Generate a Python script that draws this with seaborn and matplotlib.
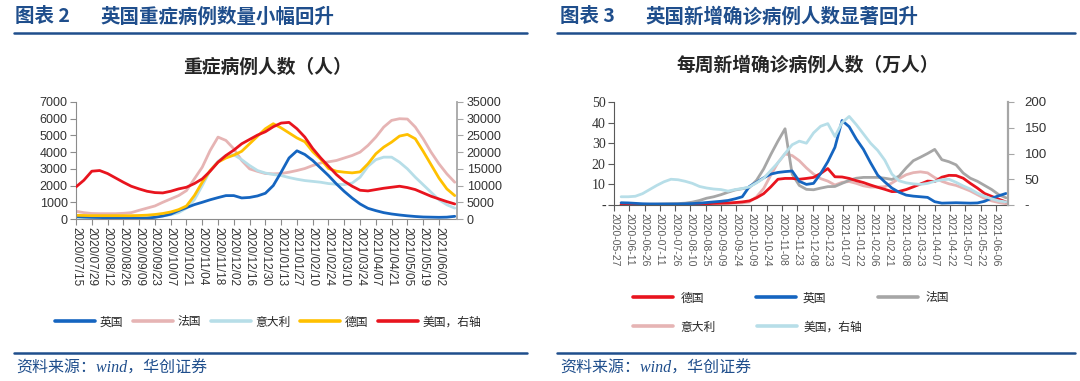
import numpy as np
import pandas as pd
import matplotlib.pyplot as plt
from matplotlib.lines import Line2D
from matplotlib.ticker import FuncFormatter
import seaborn as sns

# ---- 图表2：重症病例人数（人），按周读取 ----
icu_dates = pd.date_range("2020-07-15", periods=49, freq="7D")
icu_uk = [150, 120, 100, 90, 70, 60, 50, 40, 40, 50,
          100, 180, 290, 500, 680, 860, 1000, 1150, 1280, 1400,
          1400, 1260, 1290, 1380, 1540, 2000, 2800, 3650, 4080, 3860,
          3500, 3050, 2600, 2100, 1650, 1250, 900, 640, 500, 380,
          300, 240, 190, 150, 120, 110, 100, 110, 160]
icu_fr = [460, 380, 330, 320, 320, 320, 340, 380, 520, 650,
          780, 1000, 1200, 1400, 1700, 2400, 3100, 4100, 4900, 4700,
          4200, 3500, 3000, 2850, 2720, 2700, 2720, 2800, 2900, 3020,
          3200, 3350, 3420, 3500, 3650, 3800, 4000, 4400, 4900, 5500,
          5900, 6000, 5980, 5500, 4800, 4000, 3300, 2700, 2200]
icu_it = [80, 60, 50, 40, 30, 30, 30, 40, 60, 80,
          120, 180, 260, 380, 650, 1150, 2000, 2900, 3450, 3800,
          3850, 3550, 3200, 2900, 2750, 2660, 2600, 2480, 2380, 2300,
          2250, 2200, 2120, 2080, 2060, 2150, 2500, 3150, 3550, 3700,
          3700, 3400, 3000, 2500, 2050, 1600, 1150, 850, 650]
icu_de = [220, 210, 200, 200, 200, 200, 200, 200, 210, 230,
          270, 330, 420, 560, 780, 1400, 2200, 2900, 3400, 3650,
          3820, 4050, 4500, 4950, 5400, 5700, 5450, 5150, 4850, 4620,
          4030, 3580, 3020, 2860, 2800, 2760, 2820, 3300, 3900, 4300,
          4600, 4960, 5060, 4800, 4050, 3250, 2450, 1800, 1400]
icu_us = [9600, 11600, 14300, 14500, 13600, 12300, 11000, 9800, 9000, 8300,
          7900, 7800, 8300, 9000, 9500, 10600, 12000, 14300, 17000, 19000,
          20600, 22500, 23800, 25100, 26100, 27600, 28700, 28900, 27000, 24500,
          21100, 18300, 15800, 13300, 11300, 9800, 8600, 8400, 8800, 9200,
          9500, 9800, 9400, 8800, 7800, 6800, 6000, 5200, 4500]  # 右轴

# ---- 图表3：每周新增确诊病例人数（万人） ----
case_dates = pd.date_range("2020-06-03", periods=55, freq="7D")
case_de = [0.3, 0.3, 0.3, 0.3, 0.3, 0.3, 0.3, 0.3, 0.3, 0.3,
           0.3, 0.4, 0.6, 0.8, 0.9, 1.0, 1.2, 1.5, 2.0, 3.5,
           5.5, 8.8, 12.5, 12.9, 12.9, 12.5, 12.9, 13.4, 15.3, 17.7,
           13.7, 13.6, 12.9, 11.8, 10.9, 9.7, 8.6, 7.6, 6.5, 6.6,
           7.5, 8.8, 10.2, 11.6, 11.4, 13.5, 14.4, 14.3, 13.0, 10.5,
           8.2, 5.6, 4.2, 2.8, 1.5]
case_uk = [1.1, 1.0, 0.8, 0.6, 0.5, 0.5, 0.5, 0.5, 0.5, 0.6,
           0.7, 0.9, 1.2, 1.5, 1.8, 2.2, 3.0, 4.0, 9.0, 11.0,
           13.2, 15.0, 15.8, 16.2, 16.5, 11.5, 10.0, 10.5, 15.3, 21.0,
           28.0, 41.0, 38.0, 32.0, 27.0, 20.5, 14.5, 11.2, 8.2, 6.2,
           4.8, 4.3, 4.0, 3.7, 1.6, 0.9, 1.0, 1.1, 1.0, 0.9,
           1.0, 1.8, 3.3, 4.5, 5.6]
case_fr = [0.3, 0.3, 0.3, 0.3, 0.4, 0.4, 0.5, 0.6, 0.7, 0.9,
           1.4, 2.2, 3.3, 4.0, 5.0, 6.2, 7.3, 7.9, 8.5, 12.0,
           17.5, 24.5, 31.0, 37.0, 15.0, 9.5, 7.6, 7.4, 8.2, 8.9,
           9.0, 10.5, 12.0, 13.0, 13.4, 13.4, 13.4, 13.0, 12.4, 14.0,
           18.0, 21.5, 23.2, 25.0, 27.0, 22.0, 21.0, 19.5, 15.5, 13.0,
           11.5, 9.5, 7.5, 5.0, 3.5]
case_it = [0.2, 0.2, 0.2, 0.2, 0.2, 0.2, 0.3, 0.3, 0.3, 0.3,
           0.3, 0.3, 0.4, 0.5, 0.6, 0.7, 0.9, 1.0, 1.5, 4.0,
           8.0, 14.5, 20.5, 24.8, 24.0, 21.5, 18.0, 15.0, 12.8, 11.6,
           9.7, 11.0, 11.4, 10.5, 9.3, 8.7, 8.7, 8.9, 10.7, 12.8,
           14.7, 15.7, 16.1, 15.6, 13.3, 11.5, 10.3, 9.5, 8.2, 6.8,
           5.0, 3.2, 2.0, 1.2, 0.6]
case_us = [16, 16, 17, 22, 30, 38, 45, 50, 49, 46,
           42, 36, 33, 31, 30, 27, 30, 32, 35, 43,
           52, 67, 82, 100, 117, 124, 120, 140, 153, 158,
           133, 160, 172, 156, 138, 120, 106, 87, 60, 47,
           43, 41, 40, 42, 46, 49, 50, 44, 37, 31,
           23, 17, 12, 8, 6]  # 右轴

icu_ticks = pd.date_range("2020-07-15", "2021-06-02", freq="14D")
case_ticks = pd.date_range("2020-05-27", "2021-06-06", freq="15D")

BLUE = "#1565C0"
PINK = "#E6B4B4"
LBLUE = "#B7DEE8"
YELLOW = "#FFC000"
RED = "#E8141E"
GRAY = "#A6A6A6"
NAVY = "#1F4E8C"

sns.set_style("ticks")
plt.rcParams['font.family'] = ['Noto Sans CJK SC', 'DejaVu Sans']
plt.rcParams['axes.unicode_minus'] = False

W, H = 1080, 381
fig = plt.figure(figsize=(W / 100, H / 100), dpi=100)


def fx(px):
    return px / W


def fy(py):
    return 1 - py / H


# ---------------- left chart ----------------
ax1 = fig.add_axes([fx(76), fy(219), fx(457 - 76), (219 - 102) / H])
ax1r = ax1.twinx()
lw = 2.0
sns.lineplot(x=icu_dates, y=icu_fr, ax=ax1, color=PINK, lw=lw, label="法国", legend=False)
sns.lineplot(x=icu_dates, y=icu_it, ax=ax1, color=LBLUE, lw=lw, label="意大利", legend=False)
sns.lineplot(x=icu_dates, y=icu_uk, ax=ax1, color=BLUE, lw=lw, label="英国", legend=False)
sns.lineplot(x=icu_dates, y=icu_de, ax=ax1, color=YELLOW, lw=lw, label="德国", legend=False)
sns.lineplot(x=icu_dates, y=icu_us, ax=ax1r, color=RED, lw=lw, label="美国，右轴", legend=False)

ax1.set_xlim(pd.Timestamp("2020-07-15"), pd.Timestamp("2021-06-18"))
ax1.set_ylim(0, 7000)
ax1r.set_ylim(0, 35000)
ax1.set_yticks(range(0, 7001, 1000), labels=[str(v) for v in range(0, 7001, 1000)],
               fontsize=9, family="Liberation Sans", color="#333333")
ax1r.set_yticks(range(0, 35001, 5000), labels=[str(v) for v in range(0, 35001, 5000)],
                fontsize=9, family="Liberation Sans", color="#333333")
ax1.set_xticks(icu_ticks, labels=[d.strftime("%Y/%m/%d") for d in icu_ticks],
               rotation=270, fontsize=8.5, family="Liberation Sans", color="#333333")
for a in (ax1, ax1r):
    a.set_xlabel("")
    a.set_ylabel("")
    a.spines["top"].set_visible(False)
ax1.spines["right"].set_visible(False)
ax1r.spines["left"].set_visible(False)
ax1r.spines["bottom"].set_visible(False)
for s in ("left", "bottom"):
    ax1.spines[s].set_color("#8C8C8C")
ax1r.spines["right"].set_color("#A6A6A6")
ax1r.spines["right"].set_linewidth(1.3)
ax1.tick_params(axis="both", direction="out", length=4, width=0.8, color="#8C8C8C", pad=2)
ax1r.tick_params(axis="y", direction="out", length=4, width=0.8, color="#A6A6A6", pad=3)

# ---------------- right chart ----------------
ax2 = fig.add_axes([fx(614), fy(205), fx(1008 - 614), (205 - 102) / H])
ax2r = ax2.twinx()
sns.lineplot(x=case_dates, y=case_it, ax=ax2, color=PINK, lw=lw, label="意大利", legend=False)
sns.lineplot(x=case_dates, y=case_fr, ax=ax2, color=GRAY, lw=lw, label="法国", legend=False)
sns.lineplot(x=case_dates, y=case_de, ax=ax2, color=RED, lw=lw, label="德国", legend=False)
sns.lineplot(x=case_dates, y=case_uk, ax=ax2, color=BLUE, lw=lw, label="英国", legend=False)
sns.lineplot(x=case_dates, y=case_us, ax=ax2r, color=LBLUE, lw=lw, label="美国，右轴", legend=False)

ax2.set_xlim(pd.Timestamp("2020-05-27"), pd.Timestamp("2021-06-18"))
ax2.set_ylim(0, 50)
ax2r.set_ylim(0, 200)
dash = FuncFormatter(lambda v, p: "-" if v == 0 else f"{v:.0f}")
ax2.set_yticks(range(0, 51, 10))
ax2.yaxis.set_major_formatter(dash)
ax2r.set_yticks(range(0, 201, 50))
ax2r.yaxis.set_major_formatter(dash)
for lab in ax2.get_yticklabels():
    lab.set_family("Liberation Serif")
    lab.set_fontsize(10)
    lab.set_color("#333333")
for lab in ax2r.get_yticklabels():
    lab.set_family("Liberation Sans")
    lab.set_fontsize(9.5)
    lab.set_color("#333333")
ax2.set_xticks(case_ticks, labels=[d.strftime("%Y-%m-%d") for d in case_ticks],
               rotation=270, fontsize=7.5, family="Liberation Sans", color="#595959")
for a in (ax2, ax2r):
    a.set_xlabel("")
    a.set_ylabel("")
    a.spines["top"].set_visible(False)
ax2.spines["right"].set_visible(False)
ax2r.spines["left"].set_visible(False)
ax2r.spines["bottom"].set_visible(False)
for s in ("left", "bottom"):
    ax2.spines[s].set_color("#595959")
ax2r.spines["right"].set_color("#A6A6A6")
ax2r.spines["right"].set_linewidth(1.6)
ax2.tick_params(axis="both", direction="out", length=4, width=0.8, color="#595959", pad=2)
ax2r.tick_params(axis="y", direction="out", length=4, width=0.8, color="#A6A6A6", pad=8)

# ---------------- legends ----------------
def handles_of(*axes):
    out = {}
    for a in axes:
        for ln in a.get_lines():
            out[ln.get_label()] = ln
    return out


h1 = handles_of(ax1, ax1r)
order1 = ["英国", "法国", "意大利", "德国", "美国，右轴"]
fig.legend([Line2D([], [], color=h1[k].get_color(), lw=2.6) for k in order1], order1,
           loc="center left", bbox_to_anchor=(fx(55), fy(322)), ncol=5, frameon=False,
           fontsize=8.5, handlelength=3.4, handletextpad=0.35, columnspacing=0.85,
           borderpad=0, borderaxespad=0)

h2 = handles_of(ax2, ax2r)
row1 = ["德国", "英国", "法国"]
row2 = ["意大利", "美国，右轴"]
fig.legend([Line2D([], [], color=h2[k].get_color(), lw=2.6) for k in row1], row1,
           loc="center left", bbox_to_anchor=(fx(633), fy(298)), ncol=3, frameon=False,
           fontsize=8.5, handlelength=3.4, handletextpad=0.6, columnspacing=4.4,
           borderpad=0, borderaxespad=0)
fig.legend([Line2D([], [], color=h2[k].get_color(), lw=2.6) for k in row2], row2,
           loc="center left", bbox_to_anchor=(fx(633), fy(327)), ncol=2, frameon=False,
           fontsize=8.5, handlelength=3.4, handletextpad=0.6, columnspacing=3.5,
           borderpad=0, borderaxespad=0)

# ---------------- headers, titles, source ----------------
head = dict(fontsize=14, fontweight="bold", color=NAVY, va="center")
fig.text(fx(15), fy(17), "图表 2", **head)
fig.text(fx(100), fy(17), "英国重症病例数量小幅回升", **head)
fig.text(fx(560), fy(17), "图表 3", **head)
fig.text(fx(645), fy(17), "英国新增确诊病例人数显著回升", **head)
for x0, x1 in ((14, 527), (557, 1075)):
    fig.add_artist(Line2D([fx(x0), fx(x1)], [fy(32.5)] * 2, color=NAVY, lw=1.8))
    fig.add_artist(Line2D([fx(x0), fx(x1)], [fy(352.5)] * 2, color=NAVY, lw=1.8))

fig.text(fx(267), fy(67), "重症病例人数（人）", ha="center", va="center",
         fontsize=13.5, fontweight="bold", color="#262626")
fig.text(fx(808), fy(65), "每周新增确诊病例人数（万人）", ha="center", va="center",
         fontsize=13.5, fontweight="bold", color="#262626")

src = dict(fontsize=11.5, style="italic", color=NAVY, va="center",
           family=["Liberation Serif", "Noto Sans CJK SC"])
fig.text(fx(16), fy(369), "资料来源：wind，华创证券", **src)
fig.text(fx(560), fy(369), "资料来源：wind，华创证券", **src)

fig.savefig("out.png", dpi=100)
